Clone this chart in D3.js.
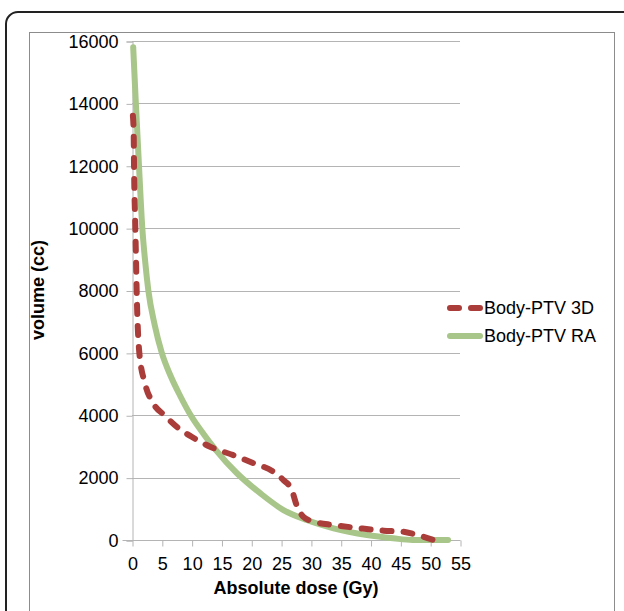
<!DOCTYPE html>
<html>
<head>
<meta charset="utf-8">
<script src="https://cdn.jsdelivr.net/npm/d3@7"></script>
<style>
  body { margin: 0; background: #fff; }
  text { font-family: "Liberation Sans", Arial, sans-serif; }
</style>
</head>
<body>
<script>
// Dose-volume histogram: Body-PTV, 3D vs RA

const width = 624;
const height = 611;

// series: [dose (Gy), volume (cc)]
const dose3D = [0.15, 0.28, 0.34, 0.56, 0.67, 0.78, 1.23, 2.18, 3.57, 5.5, 7.5, 10, 13.1, 17, 20.4, 23.7, 25.4, 26.8, 27.6, 28.7, 30.4, 33.8, 38.3, 42.2, 45.5, 47.8, 50.6];
const vol3D = [13600, 13050, 12000, 10000, 9000, 8000, 6000, 5020, 4380, 3990, 3630, 3310, 2990, 2720, 2460, 2190, 1920, 1600, 1120, 750, 590, 480, 375, 300, 265, 160, 0];

const doseRA = [0.2, 0.62, 1.17, 1.73, 2.2, 2.74, 3.8, 5, 6.5, 8, 10, 12, 14, 17.6, 21.5, 25.4, 29.3, 33.8, 39.4, 43.8, 47, 53];
const volRA = [15800, 14100, 12000, 10000, 8950, 8000, 6900, 6000, 5250, 4650, 3950, 3400, 2900, 2140, 1500, 960, 640, 375, 160, 55, 0, 0];

const xTicks = d3.range(0, 56, 5);
const yTicks = d3.range(0, 16001, 2000);

const seriesNames = ["Body-PTV 3D", "Body-PTV RA"];
const seriesColors = ["#aa3d3a", "#a8c68a"];

const margin = { left: 132, right: 164, top: 41, bottom: 71 };

const svg = d3.select("body").append("svg")
    .attr("width", width)
    .attr("height", height);

// outer rounded frame and inner chart frame
svg.append("rect")
    .attr("x", 6).attr("y", 12)
    .attr("width", 640).attr("height", 640)
    .attr("rx", 12)
    .attr("fill", "none")
    .attr("stroke", "#222")
    .attr("stroke-width", 2);

svg.append("rect")
    .attr("x", 29.5).attr("y", 32.5)
    .attr("width", 585).attr("height", 600)
    .attr("fill", "none")
    .attr("stroke", "#8c8c8c")
    .attr("stroke-width", 1);

const x = d3.scaleLinear()
    .domain([0, 55])
    .range([margin.left, width - margin.right]);

const y = d3.scaleLinear()
    .domain([0, 16000])
    .range([height - margin.bottom, margin.top]);

// gridlines
svg.append("g")
    .selectAll("line")
    .data(yTicks.filter(d => d > 0))
    .join("line")
    .attr("x1", x(0))
    .attr("x2", x(55))
    .attr("y1", d => Math.round(y(d)) + 0.5)
    .attr("y2", d => Math.round(y(d)) + 0.5)
    .attr("stroke", "#b4b4b4");

// y axis
const yAxis = svg.append("g")
    .attr("transform", `translate(${x(0) + 0.5},0.5)`)
    .call(d3.axisLeft(y).tickValues(yTicks).tickSize(6).tickPadding(8).tickFormat(d3.format("d")));
yAxis.select(".domain").attr("stroke", "#b4b4b4");
yAxis.selectAll(".tick line").attr("stroke", "#b4b4b4");
yAxis.selectAll("text")
    .attr("font-size", 18)
    .attr("fill", "#000")
    .style("font-family", "'Liberation Sans', Arial, sans-serif");

// x axis
const xAxis = svg.append("g")
    .attr("transform", `translate(0.5,${y(0) + 0.5})`)
    .call(d3.axisBottom(x).tickValues(xTicks).tickSizeInner(6).tickSizeOuter(0).tickPadding(11));
xAxis.select(".domain")
    .attr("stroke", "#b4b4b4")
    .attr("d", `M${x(0) - 10},0H${x(55)}`);
xAxis.selectAll(".tick line").attr("stroke", "#b4b4b4");
xAxis.selectAll("text")
    .attr("font-size", 18)
    .attr("fill", "#000")
    .style("font-family", "'Liberation Sans', Arial, sans-serif");

// lines
const line = d3.line()
    .x(d => x(d[0]))
    .y(d => y(d[1]))
    .curve(d3.curveMonotoneX);

svg.append("path")
    .datum(doseRA.map((d, i) => [d, volRA[i]]))
    .attr("d", line)
    .attr("fill", "none")
    .attr("stroke", seriesColors[1])
    .attr("stroke-width", 6)
    .attr("stroke-linejoin", "round")
    .attr("stroke-linecap", "round");

svg.append("path")
    .datum(dose3D.map((d, i) => [d, vol3D[i]]))
    .attr("d", line)
    .attr("fill", "none")
    .attr("stroke", seriesColors[0])
    .attr("stroke-width", 6)
    .attr("stroke-dasharray", "9 12")
    .attr("stroke-linejoin", "round")
    .attr("stroke-linecap", "round");

// axis titles
svg.append("text")
    .attr("x", 296)
    .attr("y", 594)
    .attr("text-anchor", "middle")
    .attr("font-size", 18)
    .attr("font-weight", "bold")
    .text("Absolute dose (Gy)");

svg.append("text")
    .attr("transform", "translate(44,290) rotate(-90)")
    .attr("text-anchor", "middle")
    .attr("font-size", 18)
    .attr("font-weight", "bold")
    .text("volume (cc)");

// legend
const legend = svg.append("g")
    .selectAll("g")
    .data(seriesNames)
    .join("g")
    .attr("transform", (d, i) => `translate(447,${308 + i * 28})`);

legend.append("line")
    .attr("x1", 3).attr("x2", 33)
    .attr("stroke", (d, i) => seriesColors[i])
    .attr("stroke-width", 6)
    .attr("stroke-linecap", "round")
    .attr("stroke-dasharray", (d, i) => i === 0 ? "9 12" : null);

legend.append("text")
    .attr("x", 37)
    .attr("y", 6)
    .attr("font-size", 18)
    .text(d => d);
</script>
</body>
</html>
